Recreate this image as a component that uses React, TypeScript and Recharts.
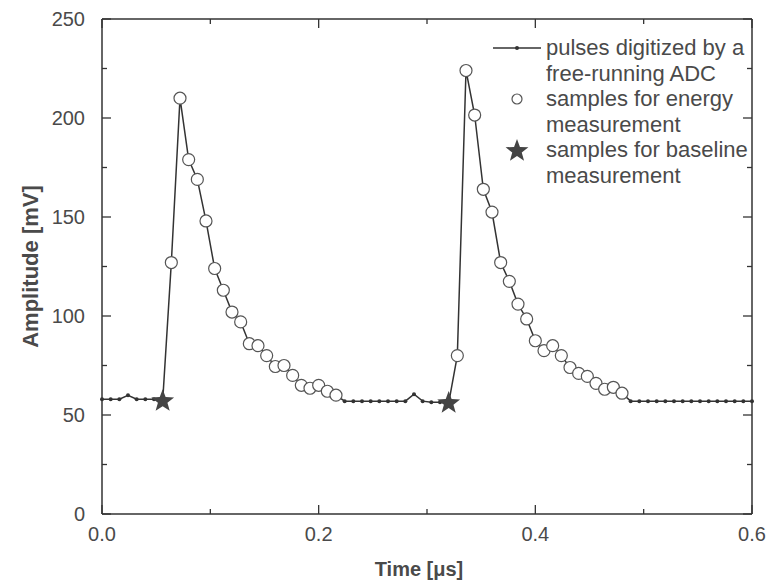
import { LineChart, Line, XAxis, YAxis, Legend } from 'recharts';

const time = [
  0, 0.008, 0.016, 0.024, 0.032, 0.04, 0.048, 0.056, 0.064, 0.072,
  0.08, 0.088, 0.096, 0.104, 0.112, 0.12, 0.128, 0.136, 0.144, 0.152,
  0.16, 0.168, 0.176, 0.184, 0.192, 0.2, 0.208, 0.216, 0.224, 0.232,
  0.24, 0.248, 0.256, 0.264, 0.272, 0.28, 0.288, 0.296, 0.304, 0.312,
  0.32, 0.328, 0.336, 0.344, 0.352, 0.36, 0.368, 0.376, 0.384, 0.392,
  0.4, 0.408, 0.416, 0.424, 0.432, 0.44, 0.448, 0.456, 0.464, 0.472,
  0.48, 0.488, 0.496, 0.504, 0.512, 0.52, 0.528, 0.536, 0.544, 0.552,
  0.56, 0.568, 0.576, 0.584, 0.592, 0.6,
];

const amplitude = [
  58, 58, 58, 60, 58, 58, 58, 57, 127, 210,
  179, 169, 148, 124, 113, 102, 97, 86, 85, 80,
  74.5, 75, 70, 65, 63.5, 65, 62, 60, 57, 57,
  57, 57, 57, 57, 57, 57, 60.5, 57, 56.5, 56.5,
  56, 80, 224, 201.5, 164, 152.5, 127, 117.5, 106, 98.5,
  87.5, 82.5, 85, 80, 74, 71, 69.5, 66, 63, 64,
  61, 57, 57, 57, 57, 57, 57, 57, 57, 57,
  57, 57, 57, 57, 57, 57,
];

// sample windows used for the energy sum, and the single baseline samples
const energyWindows = [
  [0.064, 0.216],
  [0.328, 0.48],
];
const baselineTimes = [0.056, 0.32];

const xTicks = [0, 0.1, 0.2, 0.3, 0.4, 0.5, 0.6];
const yTicks = [0, 25, 50, 75, 100, 125, 150, 175, 200, 225, 250];

const data = time.map((t, i) => {
  const v = amplitude[i];
  const inEnergy = energyWindows.some(([a, b]) => t >= a - 1e-6 && t <= b + 1e-6);
  const isBase = baselineTimes.some((b) => Math.abs(b - t) < 1e-6);
  return { t, v, energy: inEnergy ? v : null, baseline: isBase ? v : null };
});

const FONT = '"Liberation Sans", Arial, sans-serif';
const INK = '#333';
const TEXT = '#4a4a4a';

function starPoints(cx: number, cy: number, R: number, r: number) {
  const pts: string[] = [];
  for (let k = 0; k < 10; k++) {
    const rad = k % 2 === 0 ? R : r;
    const a = -Math.PI / 2 + (k * Math.PI) / 5;
    pts.push(`${cx + rad * Math.cos(a)},${cy + rad * Math.sin(a)}`);
  }
  return pts.join(' ');
}

const StarDot = (props: any) => {
  const { cx, cy, payload } = props;
  if (payload.baseline == null) return <g key={props.key} />;
  return <polygon key={props.key} points={starPoints(cx, cy, 12, 5)} fill="#444" />;
};

const CircleDot = (props: any) => {
  const { cx, cy, payload } = props;
  if (payload.energy == null) return <g key={props.key} />;
  return <circle key={props.key} cx={cx} cy={cy} r={6} fill="#fff" stroke="#555" strokeWidth={1.2} />;
};

const isMajorX = (v: number) => Math.round(v * 10) % 2 === 0;
const isMajorY = (v: number) => v % 50 === 0;

const BottomTick = ({ x, y, payload }: any) => {
  const major = isMajorX(payload.value);
  return (
    <g>
      <line x1={x} x2={x} y1={y} y2={y - (major ? 9 : 5)} stroke={INK} strokeWidth={1.3} />
      {major && (
        <text x={x} y={y + 27} textAnchor="middle" fontSize={20} fill={TEXT} fontFamily={FONT}>
          {payload.value.toFixed(1)}
        </text>
      )}
    </g>
  );
};

const TopTick = ({ x, y, payload }: any) => {
  const major = isMajorX(payload.value);
  return <line x1={x} x2={x} y1={y} y2={y + (major ? 9 : 5)} stroke={INK} strokeWidth={1.3} />;
};

const LeftTick = ({ x, y, payload }: any) => {
  const major = isMajorY(payload.value);
  return (
    <g>
      <line x1={x} x2={x + (major ? 9 : 5)} y1={y} y2={y} stroke={INK} strokeWidth={1.3} />
      {major && (
        <text x={x - 17} y={y + 7} textAnchor="end" fontSize={20} fill={TEXT} fontFamily={FONT}>
          {payload.value}
        </text>
      )}
    </g>
  );
};

const RightTick = ({ x, y, payload }: any) => {
  const major = isMajorY(payload.value);
  return <line x1={x} x2={x - (major ? 9 : 5)} y1={y} y2={y} stroke={INK} strokeWidth={1.3} />;
};

const legendRows = [
  { icon: 'line', lines: ['pulses digitized by a', 'free-running ADC'] },
  { icon: 'circle', lines: ['samples for energy', 'measurement'] },
  { icon: 'star', lines: ['samples for baseline', 'measurement'] },
];

const LegendBox = () => (
  <div style={{ fontFamily: FONT, fontSize: 22, color: TEXT, lineHeight: '25.5px' }}>
    {legendRows.map((row) => (
      <div key={row.lines[0]} style={{ display: 'flex', alignItems: 'flex-start' }}>
        <svg width={58} height={26} style={{ flex: 'none' }}>
          {row.icon === 'line' && (
            <g>
              <line x1={5} x2={53} y1={13} y2={13} stroke={INK} strokeWidth={1.5} />
              <circle cx={29} cy={13} r={2} fill={INK} />
            </g>
          )}
          {row.icon === 'circle' && <circle cx={29} cy={13} r={5} fill="#fff" stroke="#555" strokeWidth={1.2} />}
          {row.icon === 'star' && <polygon points={starPoints(29, 14, 12, 5)} fill="#444" />}
        </svg>
        <div>
          {row.lines.map((l) => (
            <div key={l}>{l}</div>
          ))}
        </div>
      </div>
    ))}
  </div>
);

export default function App() {
  return (
    <div style={{ position: 'absolute', left: 0, top: 0, background: '#fff' }}>
      <LineChart width={775} height={587} data={data} margin={{ top: 18, right: 22, bottom: 0, left: 0 }}>
        <XAxis
          xAxisId="bottom"
          dataKey="t"
          type="number"
          domain={[0, 0.6]}
          ticks={xTicks}
          interval={0}
          tickSize={0}
          tickMargin={0}
          tickLine={false}
          tick={BottomTick}
          height={73}
          axisLine={{ stroke: INK, strokeWidth: 1.5 }}
          label={({ viewBox }: any) => (
            <text
              x={viewBox.x + viewBox.width / 2 - 8}
              y={viewBox.y + 62}
              textAnchor="middle"
              fontSize={20}
              fontWeight="bold"
              fill={TEXT}
              fontFamily={FONT}
            >
              Time [μs]
            </text>
          )}
        />
        <XAxis
          xAxisId="top"
          orientation="top"
          dataKey="t"
          type="number"
          domain={[0, 0.6]}
          ticks={xTicks}
          interval={0}
          tickSize={0}
          tickMargin={0}
          tickLine={false}
          tick={TopTick}
          height={1}
          axisLine={{ stroke: INK, strokeWidth: 1.5 }}
        />
        <YAxis
          yAxisId="left"
          type="number"
          domain={[0, 250]}
          ticks={yTicks}
          interval={0}
          tickSize={0}
          tickMargin={0}
          tickLine={false}
          tick={LeftTick}
          width={102}
          axisLine={{ stroke: INK, strokeWidth: 1.5 }}
          label={({ viewBox }: any) => {
            const cx = 30;
            const cy = viewBox.y + viewBox.height / 2;
            return (
              <text
                x={cx}
                y={cy}
                transform={`rotate(-90 ${cx} ${cy})`}
                textAnchor="middle"
                dominantBaseline="central"
                fontSize={22}
                fontWeight="bold"
                fill={TEXT}
                fontFamily={FONT}
              >
                Amplitude [mV]
              </text>
            );
          }}
        />
        <YAxis
          yAxisId="right"
          orientation="right"
          type="number"
          domain={[0, 250]}
          ticks={yTicks}
          interval={0}
          tickSize={0}
          tickMargin={0}
          tickLine={false}
          tick={RightTick}
          width={1}
          axisLine={{ stroke: INK, strokeWidth: 1.5 }}
        />
        <Legend
          layout="vertical"
          align="center"
          verticalAlign="middle"
          content={LegendBox}
          wrapperStyle={{ left: 488, top: 35, width: 287, height: 160 }}
        />
        {/* invisible series so the mirrored frame axes get a scale */}
        <Line
          xAxisId="top"
          yAxisId="right"
          dataKey="v"
          stroke="none"
          dot={false}
          activeDot={false}
          isAnimationActive={false}
          legendType="none"
        />
        <Line
          xAxisId="bottom"
          yAxisId="left"
          dataKey="v"
          stroke={INK}
          strokeWidth={1.5}
          dot={{ r: 2, fill: INK, stroke: 'none' }}
          activeDot={false}
          isAnimationActive={false}
          legendType="none"
        />
        <Line
          xAxisId="bottom"
          yAxisId="left"
          dataKey="energy"
          stroke="none"
          dot={CircleDot}
          activeDot={false}
          isAnimationActive={false}
        />
        <Line
          xAxisId="bottom"
          yAxisId="left"
          dataKey="baseline"
          stroke="none"
          dot={StarDot}
          activeDot={false}
          isAnimationActive={false}
        />
      </LineChart>
    </div>
  );
}
